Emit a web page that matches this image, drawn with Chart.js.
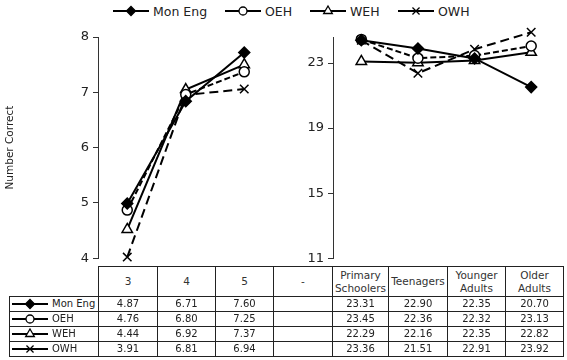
<!DOCTYPE html>
<html lang="en">
<head>
<meta charset="UTF-8">
<title>Number Correct</title>
<script src="https://cdn.jsdelivr.net/npm/chart.js@4.4.1/dist/chart.umd.min.js"></script>
<style>
  body { margin: 0; background: #fff; font-family: "DejaVu Sans", sans-serif; color: #222; }
  #wrap { position: relative; width: 567px; height: 360px; overflow: hidden; }
  canvas.chart { position: absolute; top: 0; z-index: 2; }
  #leftChart { left: 0; }
  #rightChart { left: 290px; }
  .cell { position: absolute; box-sizing: border-box; border: 1px solid #222; display: flex;
          align-items: center; justify-content: center; text-align: center; font-size: 10px; line-height: 12px; }
  .cell.head { font-size: 10.5px; line-height: 13px; color: #333; }
  .cell.label { justify-content: flex-start; padding-left: 2px; }
  .cell.label canvas { margin-right: 4px; }
  .leg { position: absolute; top: 4px; height: 14px; display: flex; align-items: center; font-size: 12.5px; }
  .leg canvas { margin-right: 4px; }
</style>
</head>
<body>
<div id="wrap">
  <div id="legend"></div>
  <div id="table"></div>
  <canvas id="leftChart" class="chart" width="340" height="270"></canvas>
  <canvas id="rightChart" class="chart" width="277" height="270"></canvas>
</div>
<script>
// categories
const leftLabels = ['3', '4', '5', '-'];
const rightLabels = ['Primary Schoolers', 'Teenagers', 'Younger Adults', 'Older Adults'];
const seriesNames = ['Mon Eng', 'OEH', 'WEH', 'OWH'];
const leftTicks = [4, 5, 6, 7, 8];
const rightTicks = [11, 15, 19, 23];

// where the points sit in the plot
const monEngLeft = [4.99, 6.84, 7.72, null];
const oehLeft = [4.87, 6.96, 7.37, null];
const wehLeft = [4.52, 7.05, 7.50, null];
const owhLeft = [4.02, 6.95, 7.06, null];
const monEngRight = [24.40, 23.89, 23.28, 21.52];
const oehRight = [24.45, 23.30, 23.46, 24.05];
const wehRight = [23.10, 23.02, 23.16, 23.66];
const owhRight = [24.40, 22.37, 23.85, 24.89];

// numbers printed in the table
const monEngTable = [4.87, 6.71, 7.60, null, 23.31, 22.90, 22.35, 20.70];
const oehTable = [4.76, 6.80, 7.25, null, 23.45, 22.36, 22.32, 23.13];
const wehTable = [4.44, 6.92, 7.37, null, 22.29, 22.16, 22.35, 22.82];
const owhTable = [3.91, 6.81, 6.94, null, 23.36, 21.51, 22.91, 23.92];

const FONT = '"DejaVu Sans", sans-serif';
const styles = [
  { pointStyle: 'rectRot', radius: 5.5, fill: '#000', dash: [] },
  { pointStyle: 'circle', radius: 5, fill: '#fff', dash: [6, 3] },
  { pointStyle: 'triangle', radius: 6, fill: '#fff', dash: [] },
  { pointStyle: 'crossRot', radius: 6, fill: '#fff', dash: [9, 5] }
];

function makeSets(values) {
  return values.map((data, i) => ({
    label: seriesNames[i],
    data,
    borderColor: '#000',
    borderWidth: 2,
    borderDash: styles[i].dash,
    backgroundColor: styles[i].fill,
    pointStyle: styles[i].pointStyle,
    pointRadius: styles[i].radius,
    pointBackgroundColor: styles[i].fill,
    pointBorderColor: '#000',
    pointBorderWidth: 1.5,
    tension: 0,
    clip: false
  }));
}

function symbol(i, w, h) {
  const c = document.createElement('canvas');
  c.width = w; c.height = h;
  const ctx = c.getContext('2d');
  ctx.strokeStyle = '#000';
  ctx.lineWidth = 2;
  ctx.beginPath(); ctx.moveTo(0, h / 2); ctx.lineTo(w, h / 2); ctx.stroke();
  ctx.fillStyle = styles[i].fill;
  ctx.lineWidth = 1.3;
  Chart.helpers.drawPoint(ctx, { pointStyle: styles[i].pointStyle, radius: styles[i].radius - 1, borderWidth: 1.3, rotation: 0 }, w / 2, h / 2);
  return c;
}

// legend across the top
const legendLefts = [113, 225, 310, 398];
const legend = document.getElementById('legend');
seriesNames.forEach((name, i) => {
  const d = document.createElement('div');
  d.className = 'leg';
  d.style.left = legendLefts[i] + 'px';
  d.appendChild(symbol(i, 36, 14));
  d.appendChild(document.createTextNode(name));
  legend.appendChild(d);
});

// data table under the plots
const colEdges = [9, 98, 157, 215, 273, 332, 388, 447, 505, 563];
const rowEdges = [266, 296, 311, 326, 341, 356];
const table = document.getElementById('table');
const tableRows = [monEngTable, oehTable, wehTable, owhTable];
const headers = leftLabels.concat(rightLabels.map(s => s.replace(' ', '<br>')));

function cell(ci, ri, cls) {
  const d = document.createElement('div');
  d.className = 'cell ' + cls;
  d.style.left = colEdges[ci] + 'px';
  d.style.top = rowEdges[ri] + 'px';
  d.style.width = (colEdges[ci + 1] - colEdges[ci] + 1) + 'px';
  d.style.height = (rowEdges[ri + 1] - rowEdges[ri] + 1) + 'px';
  table.appendChild(d);
  return d;
}
headers.forEach((h, i) => { cell(i + 1, 0, 'head').innerHTML = h; });
tableRows.forEach((vals, r) => {
  const lab = cell(0, r + 1, 'label');
  lab.appendChild(symbol(r, 36, 12));
  lab.appendChild(document.createTextNode(seriesNames[r]));
  vals.forEach((v, i) => { cell(i + 1, r + 1, '').textContent = v === null ? '' : v.toFixed(2); });
});

function yAxis(min, max, ticks, width, extra) {
  return Object.assign({
    min, max,
    afterFit: s => { s.width = width; },
    afterBuildTicks: s => { s.ticks = ticks.map(v => ({ value: v })); },
    ticks: { color: '#222', font: { family: FONT, size: 13 }, padding: 4 },
    grid: { drawOnChartArea: false, tickLength: 5, color: '#333' },
    border: { color: '#333', width: 1 }
  }, extra);
}

const common = {
  responsive: false,
  animation: false,
  plugins: { legend: { display: false }, tooltip: { enabled: false } }
};

new Chart(document.getElementById('leftChart'), {
  type: 'line',
  data: { labels: leftLabels, datasets: makeSets([monEngLeft, oehLeft, wehLeft, owhLeft]) },
  options: Object.assign({}, common, {
    layout: { padding: { top: 37, right: 8, bottom: 4, left: 0 } },
    scales: {
      x: { display: false, offset: true },
      y: yAxis(4, 8, leftTicks, 98, {
        title: { display: true, text: 'Number Correct', color: '#222', font: { family: FONT, size: 10.5 }, padding: { top: 4, bottom: 0 } }
      })
    }
  })
});

const rightY = yAxis(11, 24.6, rightTicks, 43, {});
rightY.ticks = Object.assign({}, rightY.ticks, { showLabelBackdrop: true, backdropColor: '#fff', backdropPadding: { x: 3, y: 0 } });

new Chart(document.getElementById('rightChart'), {
  type: 'line',
  data: { labels: rightLabels, datasets: makeSets([monEngRight, oehRight, wehRight, owhRight]) },
  options: Object.assign({}, common, {
    layout: { padding: { top: 37, right: 4, bottom: 4, left: 0 } },
    scales: {
      x: { display: false, offset: true },
      y: rightY
    }
  })
});
</script>
</body>
</html>
